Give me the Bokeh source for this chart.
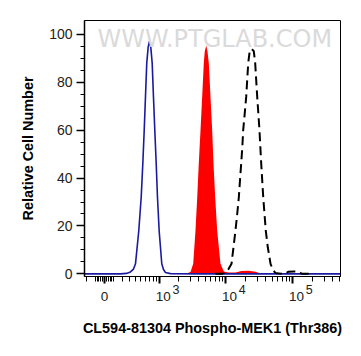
import math
from bokeh.plotting import figure
from bokeh.models import FixedTicker, Label, Range1d, LinearAxis
from bokeh.embed import file_html
from bokeh.resources import INLINE

# x values are positions on the biexponential display axis, in decades
blue_x = [1.896, 2.433, 2.522, 2.582, 2.627, 2.657, 2.706, 2.742, 2.766, 2.787, 2.806,
          2.825, 2.846, 2.866, 2.885, 2.906, 2.925, 2.945, 2.966, 2.985, 3.010, 3.049,
          3.075, 3.104, 3.179, 3.627, 5.716]
blue_y = [0, 0, 0.2, 0.8, 2.0, 4.2, 18, 32, 46, 60, 74, 88, 94.7, 97.2, 94.7, 88, 74,
          60, 46, 32, 18, 4.2, 1.8, 0.6, 0.1, 0, 0]

red_x = [3.328, 3.418, 3.478, 3.518, 3.552, 3.578, 3.601, 3.627, 3.652, 3.676, 3.691,
         3.712, 3.731, 3.751, 3.776, 3.801, 3.821, 3.846, 3.876, 3.925, 3.975, 4.045,
         4.149, 4.239, 4.343, 4.448, 4.522, 4.597]
red_y = [0, 0.2, 0.8, 4.2, 18, 32, 46, 60, 74, 88, 93, 95.4, 93, 88, 74, 60, 46, 32,
         18, 4.2, 1.0, 0.6, 0.6, 1.2, 1.3, 0.9, 0.2, 0]

black_x = [3.851, 3.955, 4.000, 4.045, 4.090, 4.119, 4.149, 4.175, 4.199, 4.216, 4.234,
           4.251, 4.264, 4.287, 4.309, 4.324, 4.339, 4.361, 4.388, 4.422, 4.443, 4.458,
           4.473, 4.490, 4.507, 4.533, 4.563, 4.601, 4.631, 4.672, 4.709, 4.746, 4.821,
           4.896, 4.940, 5.015, 5.090, 5.134, 5.269]
black_y = [0, 0.1, 0.5, 2, 4.2, 11.1, 18.1, 25.1, 32, 39, 46, 53, 60, 67, 74, 81, 88,
           93, 94, 93, 88, 81, 74, 67, 60, 46, 32, 18.1, 11.1, 4.2, 1.5, 0.4, 0.1, 0.2,
           0.9, 1.0, 0.9, 0.1, 0]

x_major_values = [0, 1e3, 1e4, 1e5]
x_major_labels = ["0", "10", "10", "10"]
x_major_exponents = ["", "3", "4", "5"]
x_minor_values = ([-200, -100, -80, -60, -40, -20, 20, 40, 60, 80] +
                  [k * 100 for k in range(1, 10)] +
                  [k * 1000 for k in range(2, 10)] +
                  [k * 10000 for k in range(2, 10)] +
                  [k * 100000 for k in range(2, 6)])
y_major = [0, 20, 40, 60, 80, 100]
y_minor = [5, 10, 15, 25, 30, 35, 45, 50, 55, 65, 70, 75, 85, 90, 95]

x_title = "CL594-81304 Phospho-MEK1 (Thr386)"
y_title = "Relative Cell Number"
watermark = "WWW.PTGLAB.COM"


def display(v):
    # biexponential-like display transform (asinh), decades
    return math.asinh(v / 313.0) / math.log(10) + math.log10(156.5)


FONT = "Liberation Sans"
DEC_PX = 67.0  # pixels per decade on the frame (for label nudges)

p = figure(width=353, height=348, output_backend="svg", toolbar_location=None,
           x_range=Range1d(1.896, 5.716), y_range=Range1d(-1.1, 105.8),
           min_border_left=84, min_border_right=13, min_border_top=20,
           min_border_bottom=72)
p.grid.visible = False
p.outline_line_color = "black"
p.outline_line_width = 1
p.background_fill_color = "white"
p.border_fill_color = "white"

# watermark
p.add_layout(Label(x=2.09, y=97.9, text=watermark, text_font="DejaVu Sans",
                   text_font_size="24px", text_color="#dadada", text_baseline="alphabetic"))

p.varea(x=red_x, y1=[0] * len(red_x), y2=red_y, fill_color="#ff0000")
p.line(blue_x, blue_y, line_color="#1a1aa0", line_width=1.6)
p.line(black_x, black_y, line_color="black", line_width=2, line_dash="9 5")

major_pos = [display(v) for v in x_major_values]

# axis A: tick marks only
ax = p.xaxis[0]
ax.ticker = FixedTicker(ticks=major_pos, minor_ticks=[display(v) for v in x_minor_values])
ax.major_label_overrides = {pos: "" for pos in major_pos}
ax.major_label_text_font_size = "0px"
ax.major_label_standoff = 0
ax.major_tick_in = 0
ax.major_tick_out = 7
ax.minor_tick_in = 0
ax.minor_tick_out = 5
ax.major_tick_line_width = 2
ax.minor_tick_line_width = 1
ax.axis_line_color = "black"

# axis B: exponents of the decade labels
exp_pos = [pos + 16.7 / DEC_PX for pos, e in zip(major_pos, x_major_exponents) if e]
exp_txt = [e for e in x_major_exponents if e]
axb = LinearAxis(ticker=FixedTicker(ticks=exp_pos, minor_ticks=[]),
                 major_label_overrides=dict(zip(exp_pos, exp_txt)),
                 axis_line_color=None, major_tick_line_color=None,
                 minor_tick_line_color=None, major_tick_out=0, major_tick_in=0,
                 minor_tick_out=0, minor_tick_in=0, major_label_standoff=1,
                 major_label_text_font=FONT, major_label_text_font_size="12.5px",
                 major_label_text_color="#222222")
p.add_layout(axb, "below")

# axis C: base labels and axis title
base_pos = [pos + (4.0 / DEC_PX if lab == "10" else 0.0)
            for pos, lab in zip(major_pos, x_major_labels)]
axc = LinearAxis(ticker=FixedTicker(ticks=base_pos, minor_ticks=[]),
                 major_label_overrides=dict(zip(base_pos, x_major_labels)),
                 axis_line_color=None, major_tick_line_color=None,
                 minor_tick_line_color=None, major_tick_out=0, major_tick_in=0,
                 minor_tick_out=0, minor_tick_in=0, major_label_standoff=-5,
                 major_label_text_font=FONT, major_label_text_font_size="13.5px",
                 major_label_text_color="#222222",
                 axis_label=x_title, axis_label_text_font=FONT,
                 axis_label_text_font_style="bold", axis_label_text_font_size="14.4px",
                 axis_label_text_color="black", axis_label_standoff=16)
p.add_layout(axc, "below")

p.yaxis.ticker = FixedTicker(ticks=y_major, minor_ticks=y_minor)
p.yaxis.major_tick_in = 0
p.yaxis.major_tick_out = 8
p.yaxis.minor_tick_in = 0
p.yaxis.minor_tick_out = 4
p.yaxis.major_tick_line_width = 1.5
p.yaxis.axis_line_width = 1.5
p.yaxis.major_label_standoff = 4
p.yaxis.major_label_text_font = FONT
p.yaxis.major_label_text_font_size = "14px"
p.yaxis.major_label_text_color = "#222222"
p.yaxis.axis_label = y_title
p.yaxis.axis_label_text_font = FONT
p.yaxis.axis_label_text_font_style = "bold"
p.yaxis.axis_label_text_font_size = "14.4px"
p.yaxis.axis_label_text_color = "black"
p.yaxis.axis_label_standoff = 10

open("out.html", "w").write(file_html(p, INLINE))
